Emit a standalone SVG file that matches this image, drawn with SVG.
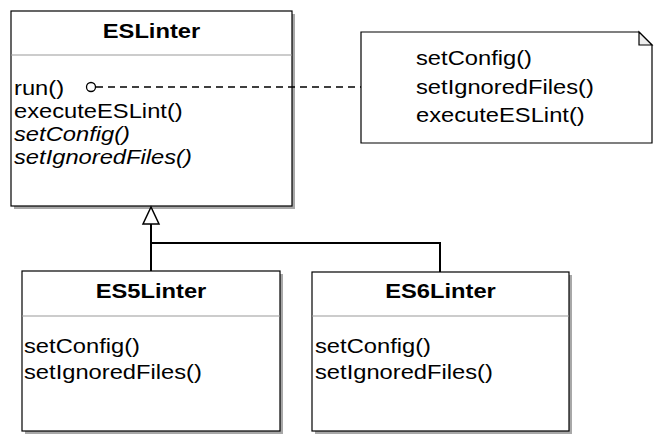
<svg xmlns="http://www.w3.org/2000/svg" width="657" height="441" viewBox="0 0 657 441">
<style>
.shadow{fill:#a8a8a8;stroke:none}
.box{fill:#fff;stroke:#000;stroke-width:1.2}
.div{stroke:#999;stroke-width:1}
.t{font-family:"Liberation Sans",Arial,sans-serif;font-size:21px;fill:#000}
.b{font-weight:bold;text-anchor:middle}
.i{font-style:italic}
.conn{fill:none;stroke:#000;stroke-width:2}
.dash{fill:none;stroke:#000;stroke-width:1.4;stroke-dasharray:7,5}
</style>
<rect width="657" height="441" fill="#fff"/>
<g id="ESLinter">
<rect class="shadow" x="14" y="14" width="281" height="195"/>
<rect class="box" x="11" y="11" width="281" height="195"/>
<line class="div" x1="11" y1="55" x2="292" y2="55"/>
<text class="t b" transform="translate(151.5,38) scale(1.13,1)">ESLinter</text>
<text class="t" transform="translate(14,94.5) scale(1.13,1)">run()</text>
<text class="t" transform="translate(14,117.5) scale(1.13,1)">executeESLint()</text>
<text class="t i" transform="translate(14,140.5) scale(1.13,1)">setConfig()</text>
<text class="t i" transform="translate(14,163.5) scale(1.13,1)">setIgnoredFiles()</text>
</g>
<g id="note">
<polygon class="box" points="361,32 639,32 652,45 652,143 361,143"/>
<polygon points="639,32 639,45 652,45" fill="#eee" stroke="#000" stroke-width="1.2"/>
<text class="t" transform="translate(416,65) scale(1.13,1)">setConfig()</text>
<text class="t" transform="translate(416,94) scale(1.13,1)">setIgnoredFiles()</text>
<text class="t" transform="translate(416,122) scale(1.13,1)">executeESLint()</text>
</g>
<g id="ES5Linter">
<rect class="shadow" x="25" y="274" width="258" height="160"/>
<rect class="box" x="22" y="271" width="258" height="160"/>
<line class="div" x1="22" y1="316" x2="280" y2="316"/>
<text class="t b" transform="translate(151,298) scale(1.13,1)">ES5Linter</text>
<text class="t" transform="translate(24,353) scale(1.13,1)">setConfig()</text>
<text class="t" transform="translate(24,379) scale(1.13,1)">setIgnoredFiles()</text>
</g>
<g id="ES6Linter">
<rect class="shadow" x="315" y="275" width="257" height="159"/>
<rect class="box" x="312" y="272" width="257" height="159"/>
<line class="div" x1="312" y1="316" x2="569" y2="316"/>
<text class="t b" transform="translate(440.5,298) scale(1.13,1)">ES6Linter</text>
<text class="t" transform="translate(315,353) scale(1.13,1)">setConfig()</text>
<text class="t" transform="translate(315,379) scale(1.13,1)">setIgnoredFiles()</text>
</g>
<g id="connectors">
<line class="dash" x1="96" y1="87" x2="361" y2="87"/>
<circle cx="91" cy="87" r="4.5" fill="#fff" stroke="#000" stroke-width="1.3"/>
<path class="conn" d="M151,224 V271 M151,243 H440 V272"/>
<polygon points="151,207 143,224 159,224" fill="#fff" stroke="#000" stroke-width="1.5"/>
</g>
</svg>
